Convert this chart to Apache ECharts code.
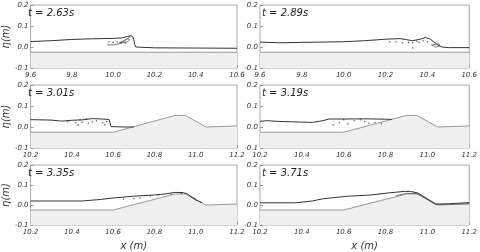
<!DOCTYPE html>
<html><head><meta charset="utf-8">
<script src="https://cdn.jsdelivr.net/npm/echarts@6/dist/echarts.min.js"></script>
<style>html,body{margin:0;padding:0;background:#fff}#c{width:480px;height:252px}</style>
</head><body><div id="c"></div>
<script>
// ---- data ----
const times = ['t = 2.63s','t = 2.89s','t = 3.01s','t = 3.19s','t = 3.35s','t = 3.71s'];
const xRanges = [[9.6,10.6],[9.6,10.6],[10.2,11.2],[10.2,11.2],[10.2,11.2],[10.2,11.2]];
const yTicks = [-0.1, 0.0, 0.1, 0.2];

const bedFlat = [[9.6,-0.025],[10.6,-0.025]];
const bedReef = [[10.2,-0.025],[10.6,-0.025],[10.9,0.055],[10.95,0.055],[11.05,0.0],[11.2,0.005]];

const surf1 = [[9.6,0.026],[9.7,0.03],[9.8,0.036],[9.9,0.039],[10.0,0.041],[10.04,0.043],[10.07,0.05],[10.085,0.054],[10.095,0.05],[10.1,0.035],[10.105,0.01],[10.11,0.0],[10.2,-0.004],[10.4,-0.005],[10.6,-0.006]];
const curl1a = [[9.97,0.01],[10.0,0.01],[10.03,0.015],[10.06,0.03],[10.075,0.045],[10.085,0.05]];
const curl1b = [[10.03,0.02],[10.05,0.03],[10.07,0.04],[10.08,0.035],[10.07,0.025],[10.05,0.02],[10.03,0.02]];
const dots1 = [[9.98,0.025],[10.0,0.022],[10.02,0.024],[10.04,0.02],[10.06,0.018]];

const surf2 = [[9.6,0.023],[9.7,0.02],[9.8,0.022],[10.0,0.025],[10.1,0.03],[10.2,0.037],[10.27,0.04],[10.3,0.035],[10.33,0.03],[10.37,0.038],[10.39,0.045],[10.41,0.04],[10.43,0.025],[10.45,0.01],[10.47,0.0],[10.5,-0.003],[10.6,-0.003]];
const curl2 = [[10.42,0.01],[10.44,0.0],[10.46,0.005],[10.455,0.015],[10.43,0.012],[10.42,0.01]];
const dots2 = [[10.22,0.025],[10.25,0.024],[10.28,0.02],[10.31,0.022],[10.33,0.02],[10.35,0.028],[10.36,0.022],[10.33,-0.005],[10.38,0.03],[10.4,0.025]];

const surf3 = [[10.2,0.035],[10.3,0.033],[10.35,0.028],[10.4,0.032],[10.45,0.034],[10.5,0.04],[10.55,0.038],[10.58,0.036],[10.585,0.02],[10.59,0.002],[10.65,0.0],[10.7,0.0]];
const dots3 = [[10.38,0.025],[10.42,0.02],[10.43,0.01],[10.45,0.022],[10.48,0.018],[10.5,0.025],[10.52,0.03],[10.55,0.02],[10.56,0.01],[10.57,0.025],[10.44,0.035],[10.47,0.038]];

const surf4 = [[10.2,0.027],[10.23,0.03],[10.3,0.026],[10.45,0.022],[10.5,0.03],[10.53,0.038],[10.6,0.038],[10.7,0.039],[10.8,0.037],[10.83,0.036]];
const dots4 = [[10.55,0.01],[10.58,0.02],[10.62,0.015],[10.65,0.03],[10.7,0.025],[10.72,0.018],[10.75,0.02],[10.78,0.015],[10.6,0.035],[10.68,0.035]];

const surf5 = [[10.2,0.02],[10.3,0.02],[10.45,0.02],[10.52,0.026],[10.6,0.035],[10.7,0.044],[10.8,0.05],[10.85,0.055],[10.9,0.063],[10.94,0.062],[10.96,0.055],[11.0,0.025],[11.03,0.012]];
const dots5 = [[10.65,0.03],[10.7,0.032],[10.73,0.035],[10.78,0.045],[10.82,0.05],[10.88,0.055],[10.93,0.058],[10.98,0.04],[10.99,0.035],[11.0,0.03]];

const surf6 = [[10.2,0.011],[10.37,0.011],[10.45,0.02],[10.5,0.031],[10.62,0.044],[10.73,0.05],[10.81,0.06],[10.89,0.068],[10.92,0.068],[10.955,0.06],[11.04,0.005],[11.1,0.006],[11.2,0.012]];
const film6 = [[10.85,0.046],[10.9,0.058],[10.95,0.058],[11.04,0.002],[11.2,0.007]];

const beds = [bedFlat,bedFlat,bedReef,bedReef,bedReef,bedReef];
const surfs = [surf1,surf2,surf3,surf4,surf5,surf6];
const extraLines = [[curl1a,curl1b],[curl2],[],[],[],[film6]];
const dots = [dots1,dots2,dots3,dots4,dots5,[]];

// ---- layout ----
const lefts = [26,260], widths = [211,212], tops = [5,85,165], H = 63;
const grids=[], xAxes=[], yAxes=[], series=[], graphics=[];
for (let i=0;i<6;i++){
  const col=i%2, row=Math.floor(i/2);
  grids.push({left:lefts[col], top:tops[row], width:widths[col], height:H, show:true, borderColor:'#a8a8a8', borderWidth:1, backgroundColor:'#fff'});
  xAxes.push({type:'value', gridIndex:i, min:xRanges[i][0], max:xRanges[i][1], interval:0.2,
    axisLine:{show:false, onZero:false}, splitLine:{show:false},
    axisTick:{show:true, inside:true, length:3, lineStyle:{color:'#999'}},
    axisLabel:{fontSize:7, fontStyle:'italic', color:'#333', margin:4, fontFamily:'DejaVu Sans', formatter:v=>v.toFixed(1)},
    name: row===2 ? 'x (m)' : '', nameLocation:'middle', nameGap:16,
    nameTextStyle:{fontSize:10, fontStyle:'italic', color:'#333', fontFamily:'DejaVu Sans'}});
  yAxes.push({type:'value', gridIndex:i, min:yTicks[0], max:yTicks[yTicks.length-1], interval:0.1,
    axisLine:{show:false, onZero:false}, splitLine:{show:false},
    axisTick:{show:true, inside:true, length:3, lineStyle:{color:'#999'}},
    axisLabel:{fontSize:7, fontStyle:'italic', color:'#333', margin:2, fontFamily:'DejaVu Sans', formatter:v=>v.toFixed(1)},
    name: col===0 ? 'η(m)' : '', nameLocation:'middle', nameGap:14, nameRotate:90,
    nameTextStyle:{fontSize:10, fontStyle:'italic', color:'#333', fontFamily:'DejaVu Sans'}});
  series.push({type:'line', xAxisIndex:i, yAxisIndex:i, data:beds[i], symbol:'none', silent:true,
    lineStyle:{color:'#999', width:1}, areaStyle:{color:'#efefef', origin:'start', opacity:1}, z:1});
  series.push({type:'line', xAxisIndex:i, yAxisIndex:i, data:surfs[i], symbol:'none', silent:true,
    lineStyle:{color:'#333', width:1}, z:3});
  extraLines[i].forEach(d=>series.push({type:'line', xAxisIndex:i, yAxisIndex:i, data:d, symbol:'none', silent:true,
    lineStyle:{color:'#555', width:0.8}, z:3}));
  if (dots[i].length) series.push({type:'scatter', xAxisIndex:i, yAxisIndex:i, data:dots[i], symbolSize:1.6, silent:true,
    itemStyle:{color:'#444'}, z:4});
  graphics.push({type:'text', left:lefts[col]+2, top:tops[row]+3, z:10,
    style:{text:times[i], font:'italic 10px "DejaVu Sans"', fill:'#222'}});
}
const chart = echarts.init(document.getElementById('c'), null, {renderer:'canvas'});
chart.setOption({animation:false, grid:grids, xAxis:xAxes, yAxis:yAxes, series:series, graphic:graphics});
</script></body></html>
